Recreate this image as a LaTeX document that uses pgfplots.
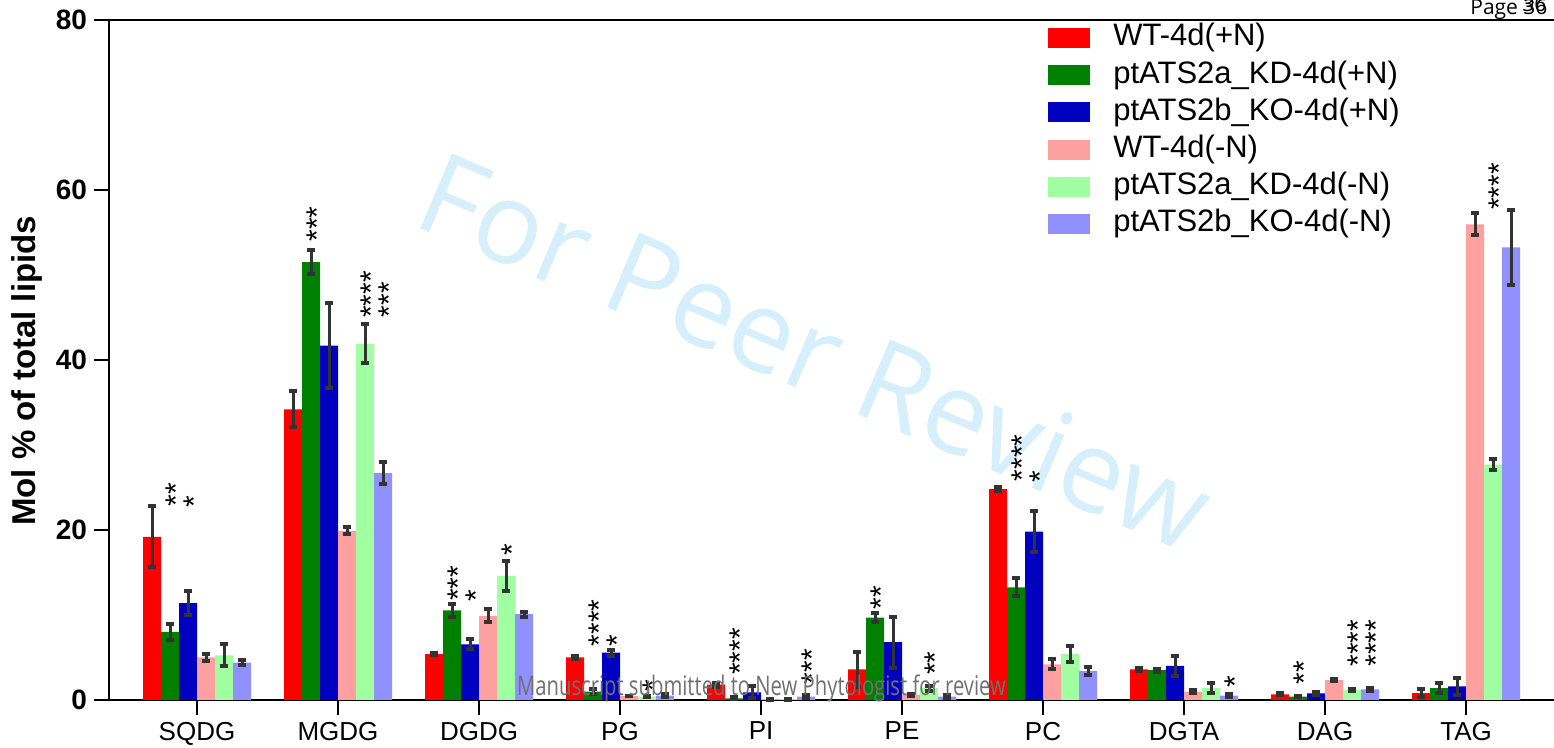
\documentclass[border=0pt]{standalone}
\usepackage{pgfplots}
\usepackage{pgfplotstable}
\pgfplotsset{compat=1.18}
\usepackage{fontspec}
\setmainfont{Liberation Sans}
\newfontfamily\osans{Open Sans}
\definecolor{cA}{HTML}{FF0000}
\definecolor{cB}{HTML}{008000}
\definecolor{cC}{HTML}{0000C0}
\definecolor{cD}{HTML}{FFA0A0}
\definecolor{cE}{HTML}{A0FFA0}
\definecolor{cF}{HTML}{9090FF}
\definecolor{wm}{RGB}{214,239,251}
\definecolor{ebar}{HTML}{333333}

% x: 0 SQDG, 1 MGDG, 2 DGDG, 3 PG, 4 PI, 5 PE, 6 PC, 7 DGTA, 8 DAG, 9 TAG
\pgfplotstableread{
x y e
0 19.2 3.6
1 34.2 2.1
2 5.4 0.15
3 5.0 0.15
4 1.8 0.25
5 3.6 2.1
6 24.8 0.25
7 3.6 0.2
8 0.67 0.12
9 0.8 0.45
}\tWTp
\pgfplotstableread{
x y e
0 8.0 0.9
1 51.5 1.4
2 10.55 0.75
3 0.98 0.3
4 0.2 0.1
5 9.7 0.5
6 13.25 1.05
7 3.5 0.2
8 0.4 0.1
9 1.4 0.6
}\tKDp
\pgfplotstableread{
x y e
0 11.4 1.4
1 41.7 5.0
2 6.55 0.6
3 5.57 0.35
4 0.9 0.7
5 6.8 3.0
6 19.8 2.4
7 4.0 1.2
8 0.78 0.15
9 1.6 1.0
}\tKOp
\pgfplotstableread{
x y e
0 5.0 0.45
1 19.9 0.4
2 9.9 0.75
3 0.47 0.05
4 0.1 0.05
5 0.6 0.15
6 4.2 0.6
7 0.98 0.2
8 2.35 0.15
9 55.96 1.3
}\tWTm
\pgfplotstableread{
x y e
0 5.25 1.3
1 41.9 2.3
2 14.6 1.8
3 0.4 0.1
4 0.1 0.05
5 1.4 0.3
6 5.4 0.9
7 1.4 0.6
8 1.2 0.1
9 27.7 0.65
}\tKDm
\pgfplotstableread{
x y e
0 4.4 0.25
1 26.7 1.3
2 10.1 0.3
3 0.5 0.15
4 0.4 0.2
5 0.4 0.15
6 3.4 0.45
7 0.5 0.15
8 1.25 0.15
9 53.25 4.45
}\tKOm

\tikzset{stn/.style={rotate=90, anchor=west, inner sep=0pt, font=\fontsize{15}{15}\selectfont}}
\newcommand\st[3]{\node[stn] at ([xshift=3pt]axis cs:#1,#2) {#3};}

\begin{document}
\begin{tikzpicture}
\useasboundingbox (0,0) rectangle (777pt,374pt);
\node[rotate=-23, anchor=base west, inner sep=0pt, text=wm,
      font=\osans\fontsize{57}{57}\selectfont] at (205pt,262pt) {For Peer Review};
\begin{axis}[
  at={(54.5pt,24pt)}, anchor=south west,
  scale only axis, width=724.5pt, height=340pt,
  xmin=-0.6241, xmax=9.652, ymin=0, ymax=80,
  ybar=0pt, bar width=9pt,
  xtick={0,...,9},
  xticklabels={SQDG,MGDG,DGDG,PG,PI,PE,PC,DGTA,DAG,TAG},
  ytick={0,20,40,60,80},
  xtick pos=lower, ytick pos=left,
  tick align=outside, major tick length=7.5pt,
  tick style={line width=1pt, black},
  axis line style={line width=1pt},
  /pgf/number format/assume math mode=true,
  yticklabel style={font=\bfseries\fontsize{14}{14}\selectfont},
  xticklabel style={font=\fontsize{13}{13}\selectfont},
  ylabel={Mol \% of total lipids},
  ylabel style={font=\bfseries\fontsize{16.5}{16.5}\selectfont,
                at={(axis description cs:-0.0569,0.484)}, anchor=center},
  legend style={at={(axis cs:6.035,79.7)}, anchor=north west, draw=none, fill=none,
                font=\fontsize{15.5}{18}\selectfont, inner sep=0pt,
                row sep=3.6pt, column sep=11.5pt,
                nodes={inner sep=0pt, text height=11.5pt, text depth=3.5pt}},
  legend cell align=left,
  legend image code/.code={\fill[#1,draw=none] (0pt,-5pt) rectangle (21pt,5pt);},
  error bars/y dir=both, error bars/y explicit,
  error bars/error bar style={line width=1.5pt, draw=ebar, solid},
  error bars/error mark=square*,
  error bars/error mark options={mark size=1.9pt, xscale=0.4, fill=ebar, draw=ebar, line width=0.5pt, solid},
  clip=false,
]
\addplot[fill=cA, draw=none] table[x=x, y=y, y error=e]{\tWTp};
\addlegendentry{WT-4d(+N)}
\addplot[fill=cB, draw=none] table[x=x, y=y, y error=e]{\tKDp};
\addlegendentry{ptATS2a\_KD-4d(+N)}
\addplot[fill=cC, draw=none] table[x=x, y=y, y error=e]{\tKOp};
\addlegendentry{ptATS2b\_KO-4d(+N)}
\addplot[fill=cD, draw=none] table[x=x, y=y, y error=e]{\tWTm};
\addlegendentry{WT-4d(-N)}
\addplot[fill=cE, draw=none] table[x=x, y=y, y error=e]{\tKDm};
\addlegendentry{ptATS2a\_KD-4d(-N)}
\addplot[fill=cF, draw=none] table[x=x, y=y, y error=e]{\tKOm};
\addlegendentry{ptATS2b\_KO-4d(-N)}

\st{-0.1915}{22.7}{**}
\st{-0.0638}{22.6}{*}
\st{0.8085}{53.9}{***}
\st{1.1915}{44.9}{****}
\st{1.3191}{45.0}{***}
\st{1.8085}{11.6}{***}
\st{1.9362}{11.5}{*}
\st{2.1915}{16.9}{*}
\st{2.8085}{6.3}{****}
\st{2.9362}{6.2}{*}
\st{3.1915}{0.9}{*}
\st{3.8085}{2.9}{****}
\st{4.3191}{1.8}{***}
\st{4.8085}{10.6}{**}
\st{5.1915}{2.9}{**}
\st{5.8085}{25.7}{****}
\st{5.9362}{25.5}{*}
\st{7.3191}{1.4}{*}
\st{7.8085}{1.8}{**}
\st{8.1915}{3.9}{****}
\st{8.3191}{3.9}{****}
\st{9.1915}{57.6}{****}
\end{axis}
\node[anchor=base, inner sep=0pt, xscale=0.75, text={rgb,255:red,112;green,112;blue,112},
      font=\osans\fontsize{13.5}{13.5}\selectfont] at (380.75pt,26pt)
      {Manuscript submitted to New Phytologist for review};
\node[anchor=base west, inner sep=0pt, font=\osans\fontsize{10.5}{10.5}\selectfont]
      at (735pt,366.5pt) {Page 36};
\node[anchor=base west, inner sep=0pt, font=\osans\fontsize{10.5}{10.5}\selectfont]
      at (761pt,368pt) {36};
\end{tikzpicture}
\end{document}
